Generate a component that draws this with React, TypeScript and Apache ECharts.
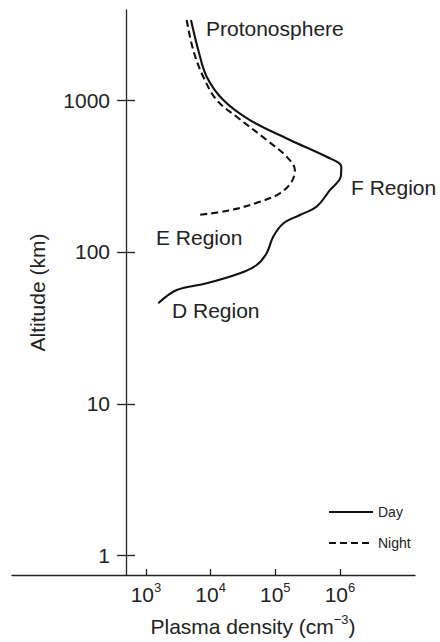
import React, { useEffect, useRef } from "react";
import * as echarts from "echarts";

const dayDensity = [4970, 6440, 8690, 15700, 40500, 168600, 623000, 1050000, 1030000, 700000, 437000, 240000, 133000, 92900, 73500, 51500, 28400, 8690, 2990, 1550];
const dayAltitude = [3365, 2134, 1424, 1000, 738, 546, 423, 364, 313, 255, 199, 175, 154, 126, 98, 82, 72.3, 62.1, 56.1, 45.9];
const nightDensity = [4260, 5380, 7690, 12400, 25300, 73500, 150000, 201000, 179000, 118000, 57900, 19900, 6440];
const nightAltitude = [3365, 2134, 1424, 1000, 776, 546, 423, 346, 290, 243, 214, 188, 175];
const xTicks = [1e3, 1e4, 1e5, 1e6];
const yTicks = [1, 10, 100, 1000];
const seriesNames = ["Day", "Night"];
const regionLabels = ["Protonosphere", "F Region", "E Region", "D Region"];
const xTitle = "Plasma density (cm";
const xTitleExp = "−3";
const yTitle = "Altitude (km)";

const FONT = "'Liberation Sans', Arial, Helvetica, sans-serif";
const INK = "#222";
const FS = 21;

export default function App() {
  const ref = useRef<HTMLDivElement>(null);
  useEffect(() => {
    if (!ref.current) return;
    const chart = echarts.init(ref.current, undefined, { renderer: "svg" });
    const dayData = dayDensity.map((d, i) => [d, dayAltitude[i]]);
    const nightData = nightDensity.map((d, i) => [d, nightAltitude[i]]);
    const gridLeft = 12;
    const yAxisX = 126;
    const yMin = 0.746;
    const yMax = 3917;
    const labelPos = [
      [206, 28],
      [351, 187],
      [156, 237],
      [172, 310],
    ];
    const rich = {
      b: { fontSize: FS, color: INK, fontFamily: FONT, verticalAlign: "bottom", lineHeight: 24 },
      s: { fontSize: 13, color: INK, fontFamily: FONT, verticalAlign: "top", lineHeight: 24 },
    };
    chart.setOption({
      animation: false,
      textStyle: { fontFamily: FONT },
      grid: { left: gridLeft, right: 25, top: 10, bottom: 67, outerBoundsMode: "none", containLabel: false },
      legend: {
        orient: "vertical",
        left: 328,
        top: 505,
        padding: 0,
        itemWidth: 44,
        itemHeight: 14,
        itemGap: 17,
        itemStyle: { opacity: 0 },
        textStyle: { fontSize: 14, color: INK, fontFamily: FONT },
        data: seriesNames,
      },
      xAxis: {
        type: "log",
        min: 8.47,
        max: 1.45e7,
        splitLine: { show: false },
        axisLine: { lineStyle: { color: INK, width: 1.3 } },
        axisTick: { inside: true, length: 6, lineStyle: { color: INK, width: 1.3 }, customValues: xTicks },
        minorTick: { show: false },
        axisLabel: {
          customValues: xTicks,
          margin: 6,
          formatter: (v: number) => `{b|10}{s|${Math.round(Math.log10(v))}}`,
          rich,
        },
        name: `{b|${xTitle}}{s|${xTitleExp}}{b|)}`,
        nameLocation: "middle",
        nameGap: 38,
        nameTextStyle: {
          padding: [0, 0, 0, 79],
          rich,
        },
      },
      yAxis: [
        {
          type: "log",
          min: yMin,
          max: yMax,
          offset: -(yAxisX - gridLeft),
          splitLine: { show: false },
          axisLine: { lineStyle: { color: INK, width: 1.3 } },
          axisTick: { length: 9, lineStyle: { color: INK, width: 1.3 }, customValues: yTicks },
          minorTick: { show: false },
          axisLabel: {
            customValues: yTicks,
            margin: 16,
            fontSize: FS,
            color: INK,
            fontFamily: FONT,
            formatter: (v: number) => String(Math.round(v)),
          },
          name: yTitle,
          nameLocation: "middle",
          nameGap: 78,
          nameTextStyle: { fontSize: FS, color: INK, fontFamily: FONT },
        },
        {
          type: "log",
          min: yMin,
          max: yMax,
          offset: -(yAxisX - gridLeft),
          position: "left",
          splitLine: { show: false },
          axisLine: { show: false },
          axisTick: { inside: true, length: 9, lineStyle: { color: INK, width: 1.3 }, customValues: yTicks },
          minorTick: { show: false },
          axisLabel: { show: false },
        },
      ],
      series: [
        {
          name: seriesNames[0],
          type: "line",
          data: dayData,
          smooth: 0.35,
          symbol: "none",
          lineStyle: { color: "#111", width: 2.1, type: "solid" },
          itemStyle: { color: "#111" },
        },
        {
          name: seriesNames[1],
          type: "line",
          data: nightData,
          smooth: 0.35,
          symbol: "none",
          lineStyle: { color: "#111", width: 2.1, type: [7, 4] },
          itemStyle: { color: "#111" },
        },
      ],
      graphic: regionLabels.map((t, i) => ({
        type: "text",
        x: labelPos[i][0],
        y: labelPos[i][1],
        style: {
          text: t,
          fill: INK,
          font: `${FS}px ${FONT}`,
          fontSize: FS,
          fontFamily: FONT,
          verticalAlign: "middle",
          textVerticalAlign: "middle",
        },
      })),
    });
    return () => chart.dispose();
  }, []);
  return <div ref={ref} style={{ width: 440, height: 642, position: "absolute", left: 0, top: 0 }} />;
}
